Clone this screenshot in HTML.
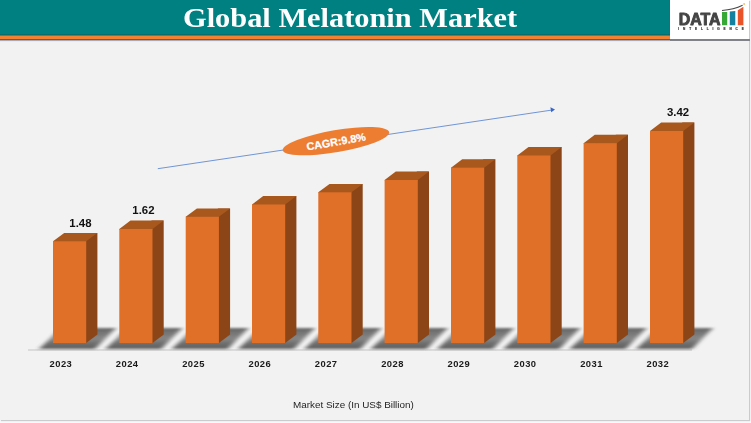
<!DOCTYPE html>
<html><head><meta charset="utf-8">
<style>
html,body{margin:0;padding:0;}
body{width:751px;height:423px;position:relative;overflow:hidden;background:#f7f8fa;font-family:"Liberation Sans",sans-serif;}
.panel{position:absolute;left:0;top:0;width:749px;height:420px;background:#f2f2f2;box-shadow:1px 1px 1px rgba(0,0,0,0.18);}
.hdr{position:absolute;left:0;top:0;width:670px;height:42px;background:linear-gradient(to bottom,#008080 0,#008080 33.8px,#086c69 34.6px,#9a6640 35.5px,#f28232 36.4px,#f28232 38.5px,#6e4c42 39.4px,#a2a3b0 40.4px,#e6e7ec 41.3px,#f2f2f2 42px);}
.lgsh{position:absolute;left:669.7px;top:38.9px;width:80.3px;height:2px;background:#7f8288;}
.title{position:absolute;left:183px;top:0;height:35px;white-space:nowrap;color:#fff;font-family:"Liberation Serif",serif;font-weight:bold;font-size:28px;line-height:35px;transform:scaleX(1.085);transform-origin:0 0;opacity:0.995;}
.logo{position:absolute;left:669.7px;top:0;width:79.8px;height:38.9px;background:#fff;box-shadow:-0.5px 0 0.8px rgba(0,0,0,0.35);}
.chart{position:absolute;left:0;top:0;}
.tx{opacity:0.995;}
.yr{font-family:"Liberation Sans",sans-serif;font-weight:bold;font-size:9.4px;letter-spacing:0.45px;fill:#1a1a1a;text-anchor:middle;}
.lb{font-family:"Liberation Sans",sans-serif;font-weight:bold;font-size:11.4px;fill:#111;text-anchor:middle;}
.cg{font-family:"Liberation Sans",sans-serif;font-weight:bold;font-size:10.8px;fill:#fff;stroke:#fff;stroke-width:0.25px;text-anchor:middle;}
.ax{font-family:"Liberation Sans",sans-serif;font-size:9.9px;fill:#1e1e1e;text-anchor:middle;}
</style></head><body>
<div class="panel"></div>
<div class="hdr"></div>
<div class="lgsh"></div>
<div class="title">Global Melatonin Market</div>
<div class="logo">
<svg width="80" height="39" viewBox="669.7 0 80 39" style="opacity:0.995">
<text x="678.4" y="24.5" font-family="Liberation Sans" font-weight="bold" font-size="16" fill="#444" stroke="#444" stroke-width="0.9" stroke-linejoin="round" textLength="41.8" lengthAdjust="spacingAndGlyphs">DATA</text>
<rect x="721.7" y="12" width="5.2" height="13.2" fill="#35a835"/>
<polygon points="729.5,11.4 735,11 735,25.2 729.5,25.2" fill="#13809f"/>
<polygon points="737.5,10.3 743.1,6.7 743.1,25.2 737.5,25.2" fill="#e9542b"/>
<path d="M721.7,10.5 Q733.5,9.6 742.3,5.3" stroke="#444" stroke-width="1.1" fill="none"/>
<circle cx="743.8" cy="3.9" r="1" fill="#f6c26a"/>
<text x="678" y="29.6" font-family="Liberation Sans" font-weight="bold" font-size="3.1" fill="#3a3a3a" stroke="#3a3a3a" stroke-width="0.2" textLength="65.5" lengthAdjust="spacing">INTELLIGENCE</text>
</svg>
</div>
<svg class="chart" width="751" height="423" viewBox="0 0 751 423">
<defs>
<linearGradient id="shg" gradientUnits="userSpaceOnUse" x1="0" y1="328" x2="0" y2="349"><stop offset="0" stop-color="#5a5a5a"/><stop offset="0.2" stop-color="#666"/><stop offset="0.5" stop-color="#7c7c7c"/><stop offset="0.8" stop-color="#5a5a5a"/><stop offset="1" stop-color="#555"/></linearGradient>
<filter id="blur" x="-20%" y="-50%" width="140%" height="200%"><feGaussianBlur stdDeviation="2.6 1.1"/></filter>
</defs>
<line x1="28" y1="350" x2="692" y2="350" stroke="#c4c4c4" stroke-width="1.2"/>
<g fill="url(#shg)" filter="url(#blur)" opacity="0.9">
<polygon points="39.0,349 95.0,349 116.0,328 61.0,328"/>
<polygon points="105.3,349 161.3,349 182.3,328 127.3,328"/>
<polygon points="171.7,349 227.7,349 248.7,328 193.7,328"/>
<polygon points="238.0,349 294.0,349 315.0,328 260.0,328"/>
<polygon points="304.3,349 360.3,349 381.3,328 326.3,328"/>
<polygon points="370.6,349 426.6,349 447.6,328 392.6,328"/>
<polygon points="437.0,349 493.0,349 514.0,328 459.0,328"/>
<polygon points="503.3,349 559.3,349 580.3,328 525.3,328"/>
<polygon points="569.6,349 625.6,349 646.6,328 591.6,328"/>
<polygon points="636.0,349 692.0,349 713.0,328 658.0,328"/>
</g>
<g>
<polygon fill="#8b4516" points="85.2,232.9 97.4,232.9 97.4,334.6 86.2,343.0 85.2,343.0"/>
<polygon fill="#a8581d" points="53.0,241.3 64.2,232.9 97.4,232.9 86.2,241.3 86.2,242.3 53.6,242.3"/>
<rect fill="#e07028" x="53.0" y="241.3" width="33.2" height="101.7"/>
<polygon fill="#8b4516" points="151.5,220.6 163.7,220.6 163.7,334.6 152.5,343.0 151.5,343.0"/>
<polygon fill="#a8581d" points="119.3,229.0 130.5,220.6 163.7,220.6 152.5,229.0 152.5,230.0 119.9,230.0"/>
<rect fill="#e07028" x="119.3" y="229.0" width="33.2" height="114.0"/>
<polygon fill="#8b4516" points="217.9,208.4 230.1,208.4 230.1,334.6 218.9,343.0 217.9,343.0"/>
<polygon fill="#a8581d" points="185.7,216.8 196.9,208.4 230.1,208.4 218.9,216.8 218.9,217.8 186.3,217.8"/>
<rect fill="#e07028" x="185.7" y="216.8" width="33.2" height="126.2"/>
<polygon fill="#8b4516" points="284.2,196.1 296.4,196.1 296.4,334.6 285.2,343.0 284.2,343.0"/>
<polygon fill="#a8581d" points="252.0,204.5 263.2,196.1 296.4,196.1 285.2,204.5 285.2,205.5 252.6,205.5"/>
<rect fill="#e07028" x="252.0" y="204.5" width="33.2" height="138.5"/>
<polygon fill="#8b4516" points="350.5,183.9 362.7,183.9 362.7,334.6 351.5,343.0 350.5,343.0"/>
<polygon fill="#a8581d" points="318.3,192.3 329.5,183.9 362.7,183.9 351.5,192.3 351.5,193.3 318.9,193.3"/>
<rect fill="#e07028" x="318.3" y="192.3" width="33.2" height="150.7"/>
<polygon fill="#8b4516" points="416.8,171.6 429.0,171.6 429.0,334.6 417.8,343.0 416.8,343.0"/>
<polygon fill="#a8581d" points="384.6,180.0 395.8,171.6 429.0,171.6 417.8,180.0 417.8,181.0 385.2,181.0"/>
<rect fill="#e07028" x="384.6" y="180.0" width="33.2" height="163.0"/>
<polygon fill="#8b4516" points="483.2,159.3 495.4,159.3 495.4,334.6 484.2,343.0 483.2,343.0"/>
<polygon fill="#a8581d" points="451.0,167.7 462.2,159.3 495.4,159.3 484.2,167.7 484.2,168.7 451.6,168.7"/>
<rect fill="#e07028" x="451.0" y="167.7" width="33.2" height="175.3"/>
<polygon fill="#8b4516" points="549.5,147.1 561.7,147.1 561.7,334.6 550.5,343.0 549.5,343.0"/>
<polygon fill="#a8581d" points="517.3,155.5 528.5,147.1 561.7,147.1 550.5,155.5 550.5,156.5 517.9,156.5"/>
<rect fill="#e07028" x="517.3" y="155.5" width="33.2" height="187.5"/>
<polygon fill="#8b4516" points="615.8,134.8 628.0,134.8 628.0,334.6 616.8,343.0 615.8,343.0"/>
<polygon fill="#a8581d" points="583.6,143.2 594.8,134.8 628.0,134.8 616.8,143.2 616.8,144.2 584.2,144.2"/>
<rect fill="#e07028" x="583.6" y="143.2" width="33.2" height="199.8"/>
<polygon fill="#8b4516" points="682.2,122.6 694.4,122.6 694.4,334.6 683.2,343.0 682.2,343.0"/>
<polygon fill="#a8581d" points="650.0,131.0 661.2,122.6 694.4,122.6 683.2,131.0 683.2,132.0 650.6,132.0"/>
<rect fill="#e07028" x="650.0" y="131.0" width="33.2" height="212.0"/>
</g>
<line x1="157.8" y1="168.7" x2="551" y2="110.2" stroke="#6f95d6" stroke-width="1"/>
<polygon points="555,109.4 550.4,107.3 551.2,112.2" fill="#3a66c4"/>
<g transform="translate(336,141.2) rotate(-9.7)">
<ellipse cx="0" cy="0" rx="54" ry="11" fill="#ed7d31"/>
<text x="0" y="4.3" class="cg">CAGR:9.8%</text>
</g>
<g class="tx"><text x="60.9" y="367" class="yr">2023</text>
<text x="80.4" y="227.1" class="lb">1.48</text>
<text x="127.2" y="367" class="yr">2024</text>
<text x="143.4" y="213.9" class="lb">1.62</text>
<text x="193.5" y="367" class="yr">2025</text>
<text x="259.8" y="367" class="yr">2026</text>
<text x="326.2" y="367" class="yr">2027</text>
<text x="392.5" y="367" class="yr">2028</text>
<text x="458.8" y="367" class="yr">2029</text>
<text x="525.2" y="367" class="yr">2030</text>
<text x="591.5" y="367" class="yr">2031</text>
<text x="657.8" y="367" class="yr">2032</text>
<text x="678.0" y="116.3" class="lb">3.42</text></g>
<g class="tx"><text x="353.4" y="407.6" class="ax">Market Size (In US$ Billion)</text></g>
</svg>
</body></html>
